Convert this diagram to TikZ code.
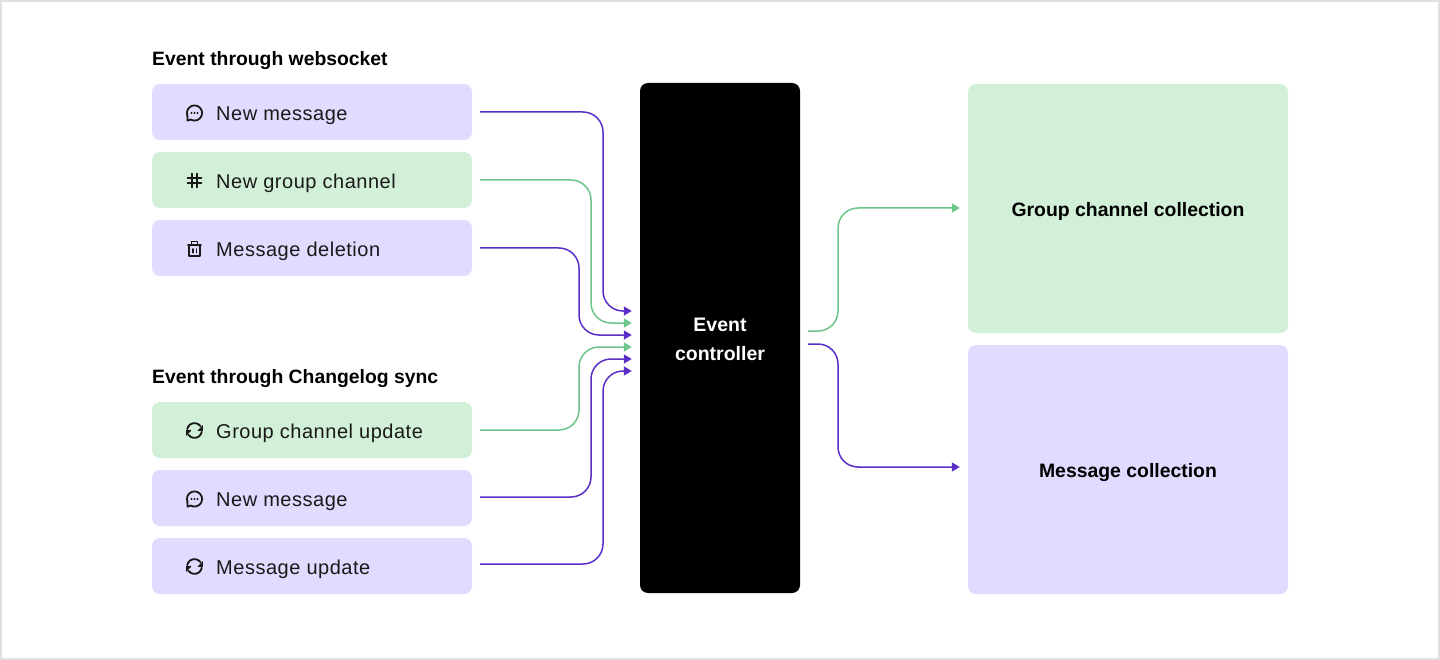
\documentclass[tikz,border=0pt]{standalone}
\usepackage{fontspec}
\setmainfont{Liberation Sans}
\newfontfamily\lblfont[LetterSpace=2.6]{Liberation Sans}
\usetikzlibrary{arrows.meta,calc}
\definecolor{lav}{HTML}{E0DBFF}
\definecolor{mint}{HTML}{D2F0D7}
\definecolor{plink}{HTML}{5A2FC8}
\definecolor{glink}{HTML}{6CC58B}
\definecolor{edge}{HTML}{E0E0E0}
\tikzset{
  x=1pt,y=-1pt,
  itembox/.style={rounded corners=8pt,minimum width=320pt,minimum height=56pt,inner sep=0pt,anchor=center},
  purplebox/.style={itembox,fill=lav},
  greenbox/.style={itembox,fill=mint},
  lbl/.style={anchor=west,inner sep=0pt,font=\fontsize{20}{24}\selectfont\lblfont,text=black!90},
  head/.style={anchor=west,inner sep=0pt,font=\fontsize{19.35}{24}\selectfont\bfseries,text=black},
  bigbox/.style={rounded corners=8pt,minimum width=320pt,inner sep=0pt},
  biglbl/.style={inner sep=0pt,font=\fontsize{19.4}{24}\selectfont\bfseries,text=black},
  conn/.style={line width=1.5pt,rounded corners=20pt,-{Triangle[length=8pt,width=9pt]}},
  pconn/.style={conn,draw=plink},
  gconn/.style={conn,draw=glink},
  ico/.style={line width=1.8pt,draw=black!90,line cap=round,line join=round},
}
\newcommand{\chaticon}[2]{%
  \begin{scope}[shift={(#1,#2)}]
    \draw[ico] (160:7.6) arc[start angle=160,end angle=480,radius=7.6] -- (-7,7.6) -- cycle;
    \fill[black!90] (-3,0) circle (1.1) (0,0) circle (1.1) (3,0) circle (1.1);
  \end{scope}}
\newcommand{\hashicon}[2]{%
  \begin{scope}[shift={(#1,#2)}]
    \draw[ico] (-2.5,-7) -- (-2.5,7) (2.5,-7) -- (2.5,7) (-7,-2.5) -- (7,-2.5) (-7,2.5) -- (7,2.5);
  \end{scope}}
\newcommand{\trashicon}[2]{%
  \begin{scope}[shift={(#1,#2)}]
    \draw[ico] (-6.4,-3.6) -- (6.4,-3.6) (-5.2,-3.6) -- (-5.2,7) -- (5.2,7) -- (5.2,-3.6) (-3,-3.6) -- (-3,-7.4) -- (3,-7.4) -- (3,-3.6) (-1.9,0) -- (-1.9,3.6) (1.9,0) -- (1.9,3.6);
  \end{scope}}
\newcommand{\syncicon}[2]{%
  \begin{scope}[shift={(#1,#2)}]
    \draw[ico] (190:7.4) arc[start angle=190,end angle=325,radius=7.4];
    \draw[ico] (10:7.4) arc[start angle=10,end angle=145,radius=7.4];
    \fill[black!90] (8.4,-5.5) -- (8.4,0.3) -- (3,0.3) -- cycle;
    \fill[black!90] (-8.4,5.5) -- (-8.4,-0.3) -- (-3,-0.3) -- cycle;
  \end{scope}}
\begin{document}
\begin{tikzpicture}
\useasboundingbox (0,0) rectangle (1440,660);
\fill[white] (0,0) rectangle (1440,660);
\draw[edge,line width=2pt] (1,1) rectangle (1439,659);

\node[head] (h1) at (152,60.5) {Event through websocket};
\node[head] (h2) at (152,378.5) {Event through Changelog sync};

\node[purplebox] (a1) at (312,112) {};
\node[greenbox]  (a2) at (312,180) {};
\node[purplebox] (a3) at (312,248) {};
\node[greenbox]  (b1) at (312,430) {};
\node[purplebox] (b2) at (312,498) {};
\node[purplebox] (b3) at (312,566) {};

\node[lbl] (ta1) at (216,115.5) {New message};
\node[lbl] (ta2) at (216,183.5) {New group channel};
\node[lbl] (ta3) at (216,251.5) {Message deletion};
\node[lbl] (tb1) at (216,433.5) {Group channel update};
\node[lbl] (tb2) at (216,501.5) {New message};
\node[lbl] (tb3) at (216,569.5) {Message update};

\chaticon{194.5}{113}
\hashicon{194.5}{180.5}
\trashicon{194.5}{249}
\syncicon{194.5}{430.5}
\chaticon{194.5}{499}
\syncicon{194.5}{566.5}

\node[fill=black,rounded corners=8pt,minimum width=160pt,minimum height=510pt,inner sep=0pt] (ctl) at (720,338) {};
\node[align=center,inner sep=0pt,text=white,font=\fontsize{19.5}{29}\selectfont\bfseries] (ctlt) at (720,339) {Event\\controller};

\node[bigbox,fill=mint,minimum height=249pt] (gc) at (1128,208.5) {};
\node[bigbox,fill=lav,minimum height=249pt] (mc) at (1128,469.5) {};
\node[biglbl] (gct) at (1128,211.5) {Group channel collection};
\node[biglbl] (mct) at (1128,472.5) {Message collection};

\coordinate (sa1) at ($(a1.east)+(8,0)$);
\coordinate (sa2) at ($(a2.east)+(8,0)$);
\coordinate (sa3) at ($(a3.east)+(8,0)$);
\coordinate (sb1) at ($(b1.east)+(8,0)$);
\coordinate (sb2) at ($(b2.east)+(8,-1)$);
\coordinate (sb3) at ($(b3.east)+(8,-2)$);
\coordinate (e1) at ($(ctl.west)+(-8,-27)$);
\coordinate (e2) at ($(ctl.west)+(-8,-15)$);
\coordinate (e3) at ($(ctl.west)+(-8,-3)$);
\coordinate (e4) at ($(ctl.west)+(-8,9)$);
\coordinate (e5) at ($(ctl.west)+(-8,21)$);
\coordinate (e6) at ($(ctl.west)+(-8,33)$);

\draw[pconn] (sa1) -| (603,311) -- (e1);
\draw[gconn] (sa2) -| (591,323) -- (e2);
\draw[pconn] (sa3) -| (579,335) -- (e3);
\draw[gconn] (sb1) -| (579,347) -- (e4);
\draw[pconn] (sb2) -| (591,359) -- (e5);
\draw[pconn] (sb3) -| (603,371) -- (e6);

\coordinate (o1) at ($(ctl.east)+(8,-7)$);
\coordinate (o2) at ($(ctl.east)+(8,6)$);
\coordinate (i1) at ($(gc.west)+(-8,-0.5)$);
\coordinate (i2) at ($(mc.west)+(-8,-2.5)$);
\draw[gconn] (o1) -| (838,208) -- (i1);
\draw[pconn] (o2) -| (838,467) -- (i2);
\end{tikzpicture}
\end{document}
